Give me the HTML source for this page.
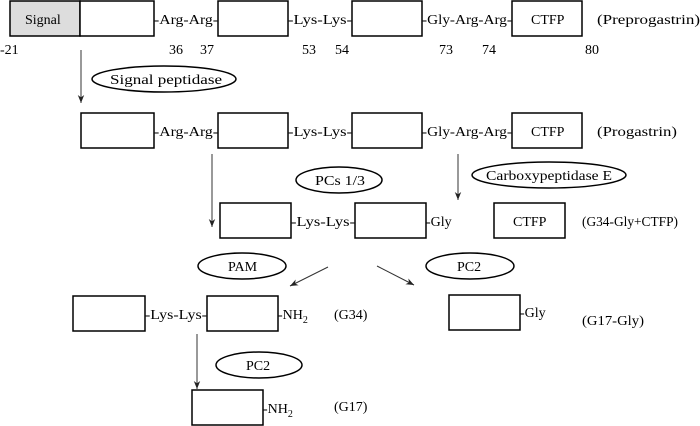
<!DOCTYPE html>
<html><head><meta charset="utf-8"><style>
html,body{margin:0;padding:0;background:#fff;}
svg{display:block;}
text{font-family:"Liberation Serif","Noto Serif CJK SC",serif;font-size:14px;fill:#000;}
</style></head><body>
<svg width="700" height="426" viewBox="0 0 700 426" xmlns="http://www.w3.org/2000/svg">
<defs><marker id="a" viewBox="0 0 10 10" refX="10" refY="5" markerWidth="8" markerHeight="8" orient="auto"><path d="M0,1 L10,5 L0,9 L3,5z" fill="#222"/></marker></defs>
<g fill="#fff" stroke="#000" stroke-width="1.5">
<rect x="10" y="1" width="70" height="35" fill="#ddd"/>
<rect x="80" y="1" width="74" height="35"/>
<rect x="218" y="1" width="70" height="35"/>
<rect x="352" y="1" width="70" height="35"/>
<rect x="512" y="1" width="70" height="35"/>
<rect x="81" y="113" width="73" height="35"/>
<rect x="218" y="113" width="70" height="35"/>
<rect x="352" y="113" width="70" height="35"/>
<rect x="512" y="113" width="70" height="35"/>
<rect x="220" y="203" width="71" height="35"/>
<rect x="355" y="203" width="71" height="35"/>
<rect x="494" y="203" width="71" height="35"/>
<rect x="73" y="296" width="72" height="35"/>
<rect x="207" y="296" width="71" height="35"/>
<rect x="449" y="295" width="71" height="35"/>
<rect x="192" y="390" width="71" height="35"/>
<ellipse cx="164" cy="79" rx="72" ry="13"/>
<ellipse cx="339" cy="180" rx="43" ry="13"/>
<ellipse cx="549" cy="175" rx="77" ry="13"/>
<ellipse cx="242" cy="266" rx="44" ry="13"/>
<ellipse cx="470" cy="266" rx="44" ry="13"/>
<ellipse cx="259" cy="365" rx="43" ry="13"/>
</g>
<g stroke="#333" stroke-width="1" fill="none" marker-end="url(#a)">
<line x1="81" y1="50" x2="81" y2="103"/>
<line x1="212" y1="154" x2="212" y2="227"/>
<line x1="458" y1="154" x2="458" y2="200"/>
<line x1="328" y1="267" x2="290" y2="286"/>
<line x1="377" y1="266" x2="414" y2="285"/>
<line x1="197" y1="334" x2="197" y2="389"/>
</g>
<g>
<text x="25" y="24">Signal</text>
<text x="154" y="24" textLength="64" lengthAdjust="spacingAndGlyphs">-Arg-Arg-</text>
<text x="288" y="24" textLength="64" lengthAdjust="spacingAndGlyphs">-Lys-Lys-</text>
<text x="422" y="24" textLength="90" lengthAdjust="spacingAndGlyphs">-Gly-Arg-Arg-</text>
<text x="531" y="24">CTFP</text>
<text x="597" y="24" textLength="103" lengthAdjust="spacingAndGlyphs">(Preprogastrin)</text>
<text x="0" y="54">-21</text>
<text x="169" y="54">36</text>
<text x="200" y="54">37</text>
<text x="302" y="54">53</text>
<text x="335" y="54">54</text>
<text x="439" y="54">73</text>
<text x="482" y="54">74</text>
<text x="585" y="54">80</text>
<text x="110" y="84" textLength="112" lengthAdjust="spacingAndGlyphs">Signal peptidase</text>
<text x="154" y="136" textLength="64" lengthAdjust="spacingAndGlyphs">-Arg-Arg-</text>
<text x="288" y="136" textLength="64" lengthAdjust="spacingAndGlyphs">-Lys-Lys-</text>
<text x="422" y="136" textLength="90" lengthAdjust="spacingAndGlyphs">-Gly-Arg-Arg-</text>
<text x="531" y="136">CTFP</text>
<text x="597" y="136" textLength="80" lengthAdjust="spacingAndGlyphs">(Progastrin)</text>
<text x="315" y="185" textLength="50" lengthAdjust="spacingAndGlyphs">PCs 1/3</text>
<text x="486" y="180" textLength="126" lengthAdjust="spacingAndGlyphs">Carboxypeptidase E</text>
<text x="291" y="226" textLength="64" lengthAdjust="spacingAndGlyphs">-Lys-Lys-</text>
<text x="426" y="226">-Gly</text>
<text x="513" y="226">CTFP</text>
<text x="582" y="226" textLength="96" lengthAdjust="spacingAndGlyphs">(G34-Gly+CTFP)</text>
<text x="228" y="271">PAM</text>
<text x="457" y="271">PC2</text>
<text x="145" y="319" textLength="62" lengthAdjust="spacingAndGlyphs">-Lys-Lys-</text>
<text x="278" y="319">-NH<tspan dy="4" font-size="10">2</tspan></text>
<text x="334" y="319">(G34)</text>
<text x="520" y="317">-Gly</text>
<text x="582" y="325" textLength="62" lengthAdjust="spacingAndGlyphs">(G17-Gly)</text>
<text x="246" y="370">PC2</text>
<text x="263" y="413">-NH<tspan dy="4" font-size="10">2</tspan></text>
<text x="334" y="411">(G17)</text>
</g>
</svg>
</body></html>
